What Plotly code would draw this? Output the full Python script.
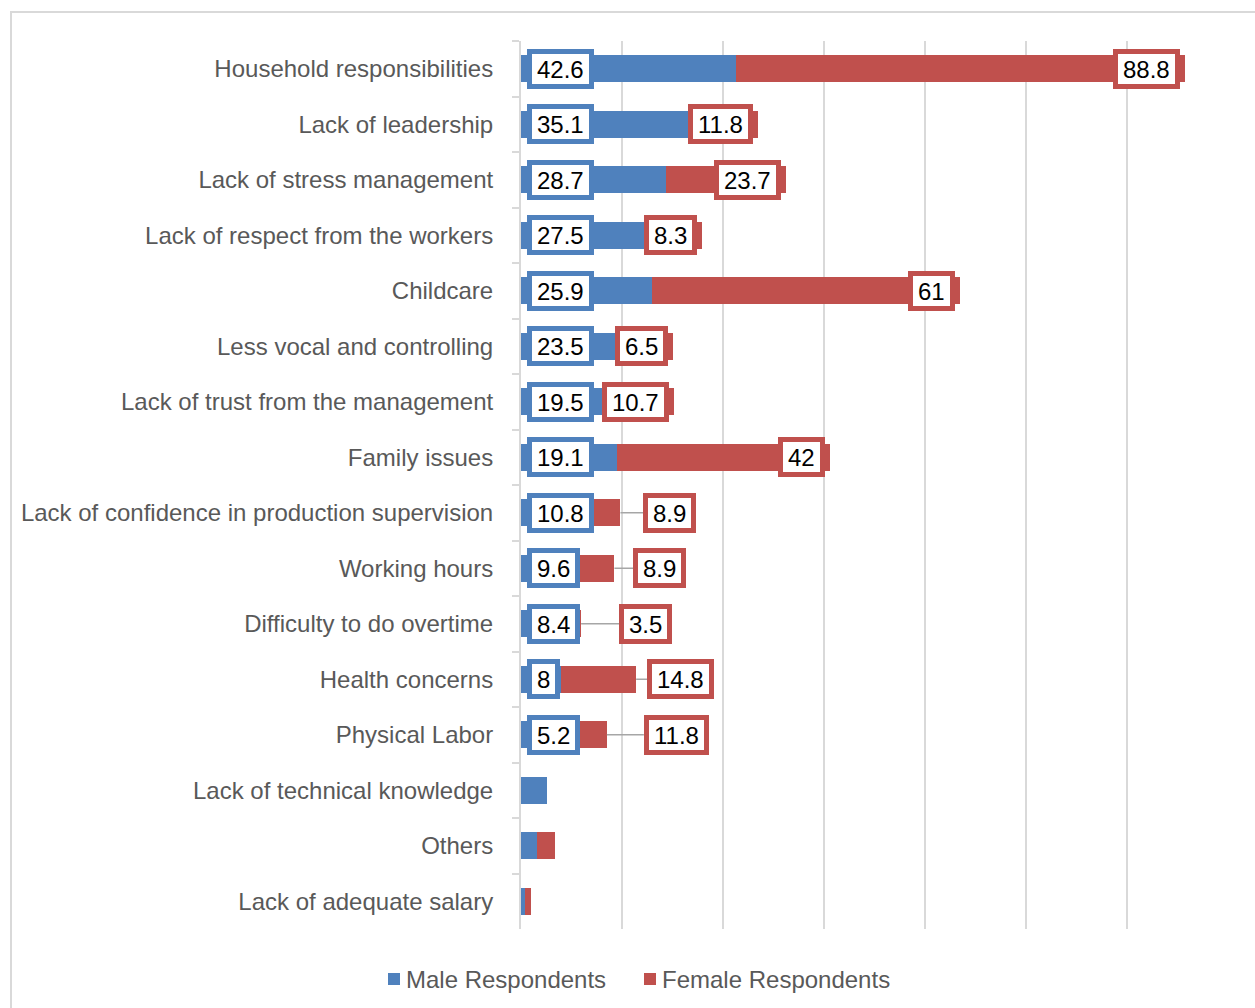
import plotly.graph_objects as go

# Reasons cited as barriers, listed top to bottom
categories = [
    "Household responsibilities",
    "Lack of leadership",
    "Lack of stress management",
    "Lack of respect from the workers",
    "Childcare",
    "Less vocal and controlling",
    "Lack of trust from the management",
    "Family issues",
    "Lack of confidence in production supervision",
    "Working hours",
    "Difficulty to do overtime",
    "Health concerns",
    "Physical Labor",
    "Lack of technical knowledge",
    "Others",
    "Lack of adequate salary",
]
male = [42.6, 35.1, 28.7, 27.5, 25.9, 23.5, 19.5, 19.1, 10.8, 9.6, 8.4, 8, 5.2, 5.2, 3.2, 0.8]
female = [88.8, 11.8, 23.7, 8.3, 61, 6.5, 10.7, 42, 8.9, 8.9, 3.5, 14.8, 11.8, 0, 3.5, 1.2]
series_names = ["Male Respondents", "Female Respondents"]

# Rows that carry value callouts
labeled_rows = 13

# Female callouts placed outside the bar end: gap in px, joined by a leader line
outside_gap = {
    "Lack of confidence in production supervision": 23,
    "Working hours": 19,
    "Difficulty to do overtime": 38,
    "Health concerns": 11,
    "Physical Labor": 37,
}

BLUE = "#4F81BD"
RED = "#C0504D"
GRID = "#D9D9D9"
TEXT = "#595959"
FONT = "Liberation Sans, Arial, sans-serif"

W, H = 1255, 1008
M_L, M_R, M_T, M_B = 521, 27, 41, 79


def px_to_paper_x(px):
    return (px - M_L) / (W - M_L - M_R)


def px_to_paper_y(py):
    return (H - M_B - py) / (H - M_T - M_B)


fig = go.Figure()
fig.add_trace(go.Bar(y=categories, x=male, orientation="h", name=series_names[0],
                     marker=dict(color=BLUE, line=dict(width=0))))
fig.add_trace(go.Bar(y=categories, x=female, orientation="h", name=series_names[1],
                     marker=dict(color=RED, line=dict(width=0))))

annotations = []
shapes = []
box = dict(showarrow=False, bgcolor="white", borderwidth=5, borderpad=5, height=20,
           font=dict(family=FONT, size=24, color="black"), xref="x", yref="y")

for i, cat in enumerate(categories[:labeled_rows]):
    m, f = male[i], female[i]
    annotations.append(dict(box, x=0, y=cat, text=f"{m:g}", xanchor="left", xshift=6,
                            bordercolor=BLUE))
    end = m + f
    if cat in outside_gap:
        gap = outside_gap[cat]
        annotations.append(dict(box, x=end, y=cat, text=f"{f:g}", xanchor="left", xshift=gap,
                                bordercolor=RED))
        shapes.append(dict(type="line", xref="x", yref="y", xsizemode="pixel", xanchor=end,
                           x0=0, x1=gap, y0=i, y1=i, layer="above",
                           line=dict(color="#A6A6A6", width=1.5)))
    else:
        annotations.append(dict(box, x=end, y=cat, text=f"{f:g}", xanchor="right", xshift=-5,
                                bordercolor=RED))

# Legend drawn below the plot: colour square followed by series name
legend_y = px_to_paper_y(979)
for name, color, sq_left in zip(series_names, [BLUE, RED], [388, 644]):
    shapes.append(dict(type="rect", xref="paper", yref="paper",
                       x0=px_to_paper_x(sq_left), x1=px_to_paper_x(sq_left + 12),
                       y0=px_to_paper_y(985), y1=px_to_paper_y(973),
                       fillcolor=color, line=dict(width=0)))
    annotations.append(dict(xref="paper", yref="paper", x=px_to_paper_x(sq_left + 16), y=legend_y,
                            xanchor="left", yanchor="middle", showarrow=False, text=name,
                            font=dict(family=FONT, size=24, color=TEXT)))

# Outer chart frame
shapes.append(dict(type="rect", xref="paper", yref="paper",
                   x0=px_to_paper_x(11), x1=px_to_paper_x(W + 40),
                   y0=px_to_paper_y(H + 40), y1=px_to_paper_y(12),
                   line=dict(color=GRID, width=2), fillcolor="rgba(0,0,0,0)", layer="below"))

fig.update_layout(
    template="none",
    width=W,
    height=H,
    autosize=False,
    margin=dict(l=M_L, r=M_R, t=M_T, b=M_B),
    paper_bgcolor="white",
    plot_bgcolor="white",
    barmode="stack",
    bargap=0.51,
    font=dict(family=FONT, size=24, color=TEXT),
    xaxis=dict(range=[0, 140], dtick=20, showticklabels=False, showgrid=True,
               gridcolor=GRID, gridwidth=1.5, zeroline=False, showline=False,
               ticks="", automargin=False, fixedrange=True),
    yaxis=dict(type="category", categoryorder="array", categoryarray=categories,
               autorange="reversed", showline=True, linecolor=GRID, linewidth=2,
               ticks="outside", tickson="boundaries", ticklen=7, tickcolor=GRID, tickwidth=2,
               showgrid=False, zeroline=False, automargin=False, ticklabelstandoff=21,
               tickfont=dict(family=FONT, size=24, color=TEXT)),
    showlegend=False,
    annotations=annotations,
    shapes=shapes,
)

fig.write_html("out.html")
